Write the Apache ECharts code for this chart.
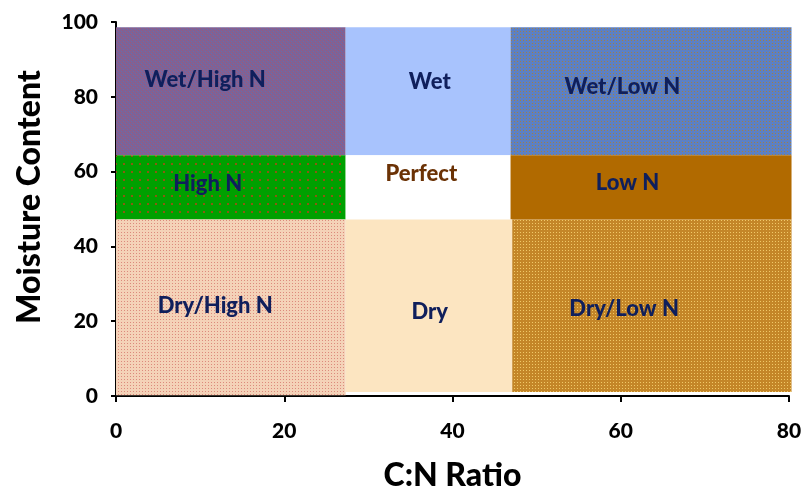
<!DOCTYPE html>
<html><head><meta charset="utf-8">
<script src="https://cdn.jsdelivr.net/npm/echarts@6/dist/echarts.min.js"></script>
<style>html,body{margin:0;padding:0;background:#fff}#c{width:806px;height:489px}</style>
</head><body><div id="c"></div>
<script>
// Zone names
const zoneNames = ['Wet/High N','Wet','Wet/Low N','High N','Perfect','Low N','Dry/High N','Dry','Dry/Low N'];
// C:N ratio extents of each zone
const cnFrom = [0, 27.3, 46.9, 0, 27.3, 46.9, 0, 27.3, 47.1];
const cnTo   = [27.3, 46.9, 80.3, 27.3, 46.9, 80.3, 27.3, 47.1, 80.3];
// Moisture extents of each zone
const mFrom = [64.4, 64.4, 64.4, 47.2, 47.2, 47.2, 0.2, 1.1, 1.1];
const mTo   = [98.6, 98.6, 98.6, 64.4, 64.4, 64.4, 47.2, 47.2, 47.2];
// Label anchor (data units)
const labelCN = [10.6, 37.3, 60.2, 10.9, 36.3, 60.8, 11.8, 37.3, 60.4];
const labelM  = [84.5, 84.0, 82.6, 56.7, 59.4, 57.0, 24.1, 22.5, 23.3];
const xTicks = [0, 20, 40, 60, 80];
const yTicks = [0, 20, 40, 60, 80, 100];

function pattern(size, base, dots) {
  const c = document.createElement('canvas');
  c.width = size; c.height = size;
  const g = c.getContext('2d');
  g.fillStyle = base; g.fillRect(0, 0, size, size);
  dots.forEach(d => { g.fillStyle = d[2]; g.fillRect(d[0], d[1], d[3] || 1, d[3] || 1); });
  return { image: c, repeat: 'repeat' };
}
const fills = [
  pattern(4, '#7e6296', [[0,0,'#9a5a7c'],[2,2,'#9a5a7c'],[1,3,'#6c6aa8'],[3,1,'#6c6aa8']]),
  '#a8c3fd',
  pattern(3, '#5c80c4', [[1,1,'#a08048']]),
  pattern(8, '#00a000', [[3,3,'#8a5a10',2]]),
  '#ffffff',
  '#b16a00',
  pattern(3, '#f4d2b8', [[1,1,'#dc8a7c']]),
  '#fce5c1',
  pattern(3, '#c48628', [[1,1,'#f0c868']])
];
const textColors = ['#0f1f5c','#0f1f5c','#0f1f5c','#0f1f5c','#6b3205','#0f1f5c','#0f1f5c','#0f1f5c','#0f1f5c'];

const data = zoneNames.map((n, i) => [cnFrom[i], cnTo[i], mFrom[i], mTo[i], labelCN[i], labelM[i], i]);

const chart = echarts.init(document.getElementById('c'));
const FONT = 'Lato, "DejaVu Sans", sans-serif';
chart.setOption({
  animation: false,
  grid: { left: 116, right: 17, top: 22, bottom: 93, containLabel: false, outerBoundsMode: 'none' },
  xAxis: {
    type: 'value', min: 0, max: 80, interval: 20,
    name: 'C:N Ratio', nameLocation: 'middle', nameGap: 64,
    nameTextStyle: { fontFamily: FONT, fontWeight: 900, fontSize: 32, color: '#000' },
    axisLine: { show: true, lineStyle: { color: '#000', width: 2 } },
    axisTick: { show: true, length: 6, lineStyle: { color: '#000', width: 2 } },
    axisLabel: { margin: 25, fontFamily: FONT, fontWeight: 900, fontSize: 21, color: '#000' },
    splitLine: { show: false }
  },
  yAxis: {
    type: 'value', min: 0, max: 100, interval: 20,
    name: 'Moisture Content', nameLocation: 'middle', nameGap: 70, nameRotate: 90,
    nameTextStyle: { fontFamily: FONT, fontWeight: 900, fontSize: 32, color: '#000', padding: [0, 0, 0, 24] },
    axisLine: { show: true, lineStyle: { color: '#000', width: 2 } },
    axisTick: { show: true, length: 5, lineStyle: { color: '#000', width: 2 } },
    axisLabel: { margin: 18, fontFamily: FONT, fontWeight: 900, fontSize: 21, color: '#000' },
    splitLine: { show: false }
  },
  series: [{
    type: 'custom',
    data: data,
    clip: false,
    renderItem: function (params, api) {
      const i = api.value(6);
      const p0 = api.coord([api.value(0), api.value(3)]);
      const p1 = api.coord([api.value(1), api.value(2)]);
      const lc = api.coord([api.value(4), api.value(5)]);
      return {
        type: 'group',
        children: [{
          type: 'rect',
          shape: { x: p0[0], y: p0[1], width: p1[0] - p0[0], height: p1[1] - p0[1] },
          style: { fill: fills[i] }
        }, {
          type: 'text',
          x: lc[0], y: lc[1],
          style: {
            text: zoneNames[i], fill: textColors[i], align: 'center', verticalAlign: 'middle',
            fontFamily: FONT, fontWeight: 900, fontSize: 22
          }
        }]
      };
    }
  }]
});
</script></body></html>
